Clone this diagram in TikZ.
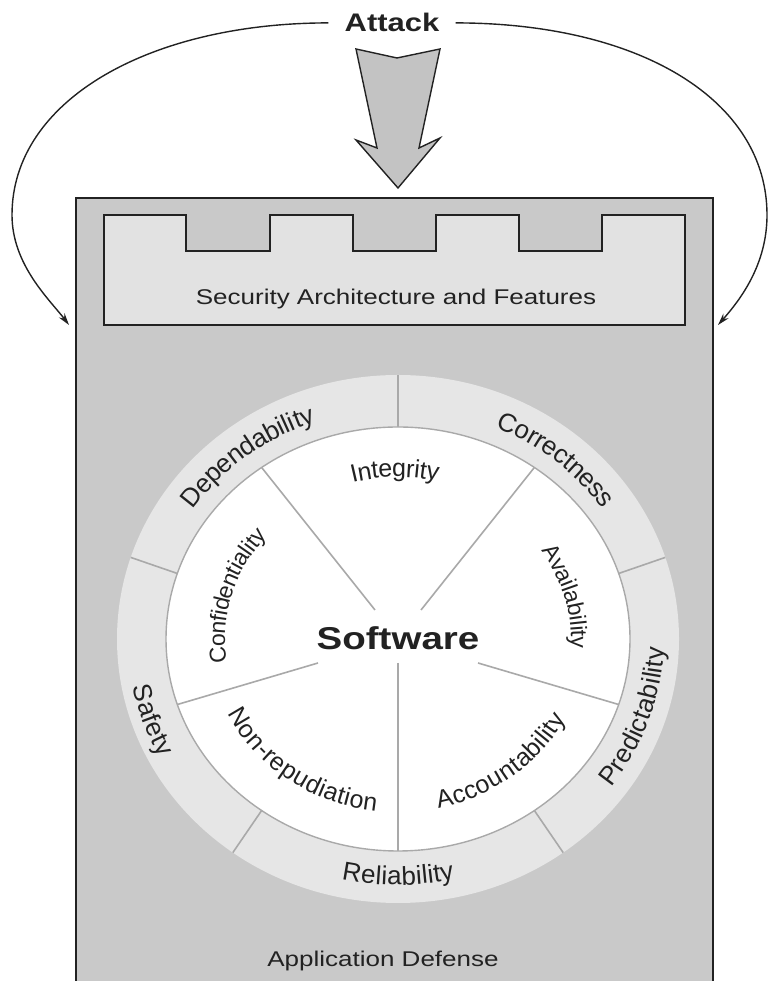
\documentclass[tikz,border=0pt]{standalone}
\usepackage{fontspec}
\setmainfont{Liberation Sans}
\usepackage{graphicx}
\usetikzlibrary{decorations.text,arrows.meta}

\definecolor{boxgray}{HTML}{C9C9C9}
\definecolor{featgray}{HTML}{E2E2E2}
\definecolor{ringgray}{HTML}{E6E6E6}
\definecolor{sepgray}{HTML}{A9A9A9}
\definecolor{inkgray}{HTML}{222222}
\definecolor{arrowgray}{HTML}{C3C3C3}

% text in this figure is set slightly flattened
\newcommand\squashtext[1]{\scalebox{1}[0.82]{#1}}
\newcommand\ringfont{\fontsize{26}{26}\selectfont}
\newcommand\corefont{\fontsize{25}{25}\selectfont}
\newcommand\sidefont{\fontsize{23}{23}\selectfont}

\tikzset{
  wall/.style={draw=inkgray, line width=2pt},
  caption/.style={text=inkgray, inner sep=0pt},
  ringtext/.style={decorate, decoration={text along path, text align=center, raise=-8pt, text color=inkgray}},
  divider/.style={draw=sepgray, line width=1.6pt},
  flank/.style={draw=inkgray, line width=1.4pt, -{Stealth[length=12pt,width=7pt]}},
}

\begin{document}
\begin{tikzpicture}[x=1pt,y=1pt]
\useasboundingbox (0,0) rectangle (769,981);

% application defense wall
\path[wall, fill=boxgray] (76,-20) rectangle (713,783);

% security architecture block with battlements
\path[wall, fill=featgray] (104,656) -- (104,766) -- (186,766) -- (186,730) -- (270,730)
  -- (270,766) -- (353,766) -- (353,730) -- (436,730) -- (436,766) -- (519,766)
  -- (519,730) -- (602,730) -- (602,766) -- (685,766) -- (685,656) -- cycle;
\node[caption, font=\fontsize{26}{26}\selectfont, anchor=base] (features) at (396,676) {\squashtext{Security Architecture and Features}};
\node[caption, font=\fontsize{26}{26}\selectfont, anchor=base] (defense) at (383,14) {\squashtext{Application Defense}};

% attack label, direct arrow and flanking arrows
\node[caption, font=\bfseries\fontsize{31}{31}\selectfont, inner xsep=16pt, anchor=base] (attack) at (392,949) {\squashtext{Attack}};
\coordinate (hitL) at (69,656);
\coordinate (hitR) at (718,656);
\draw[flank] (attack.west) .. controls (150,958) and (12,881) .. (12,766)
  .. controls (12,716) and (50,681) .. (hitL);
\draw[flank] (attack.east) .. controls (640,958) and (767,881) .. (767,766)
  .. controls (767,716) and (740,681) .. (hitR);
\path[draw=inkgray, line width=1.4pt, fill=arrowgray, line join=miter]
  (356,932) -- (397,923) -- (440,932) -- (419,833) -- (440,843) -- (398,793)
  -- (356,841) -- (377,833) -- cycle;

% software core with its properties
\begin{scope}[shift={(398,342)}]
  \fill[ringgray] (0,0) ellipse[x radius=281, y radius=264];
  \foreach \a in {90,18,-54,-126,162}
    \draw[divider] (\a:232 and 212) -- (\a:281 and 264);
  \filldraw[fill=white, draw=sepgray, line width=1.4pt] (0,0) ellipse[x radius=232, y radius=212];
  \foreach \a/\sx/\sy in {54/23/29, 126/-23/29, 198/-80/-24, 270/0/-24, 342/80/-24}
    \draw[divider] (\sx,\sy) -- (\a:232 and 212);
  \node[caption, font=\bfseries\fontsize{38.5}{38.5}\selectfont, anchor=base] (core) at (0,-11) {\squashtext{Software}};

  % outer ring
  \path[ringtext, decoration={text={|\ringfont|Dependability}}]
    (164:256 and 238) arc[start angle=164, end angle=92, x radius=256, y radius=238];
  \path[ringtext, decoration={text={|\ringfont|Correctness}}]
    (88:256 and 238) arc[start angle=88, end angle=12, x radius=256, y radius=238];
  \path[ringtext, decoration={text={|\ringfont|Predictability}}]
    (-56:258 and 240) arc[start angle=-56, end angle=18, x radius=258, y radius=240];
  \path[ringtext, decoration={text={|\ringfont|Reliability}}]
    (234:256 and 238) arc[start angle=234, end angle=306, x radius=256, y radius=238];
  \path[ringtext, decoration={text={|\ringfont|Safety}}]
    (162:262 and 244) arc[start angle=162, end angle=236, x radius=262, y radius=244];

  % inner sectors
  \path[ringtext, decoration={text={|\corefont|Integrity}}]
    (126:181 and 170) arc[start angle=126, end angle=56, x radius=181, y radius=170];
  \path[ringtext, decoration={text={|\sidefont|Confidentiality}}]
    (200:181 and 165) arc[start angle=200, end angle=128, x radius=181, y radius=165];
  \path[ringtext, decoration={text={|\sidefont|Availability}}]
    (52:181 and 165) arc[start angle=52, end angle=-22, x radius=181, y radius=165];
  \path[ringtext, decoration={text={|\corefont|Accountability}}]
    (270:181 and 165) arc[start angle=270, end angle=346, x radius=181, y radius=165];
  \path[ringtext, decoration={text={|\corefont|Non-repudiation}}]
    (196:181 and 165) arc[start angle=196, end angle=272, x radius=181, y radius=165];
\end{scope}
\end{tikzpicture}
\end{document}
